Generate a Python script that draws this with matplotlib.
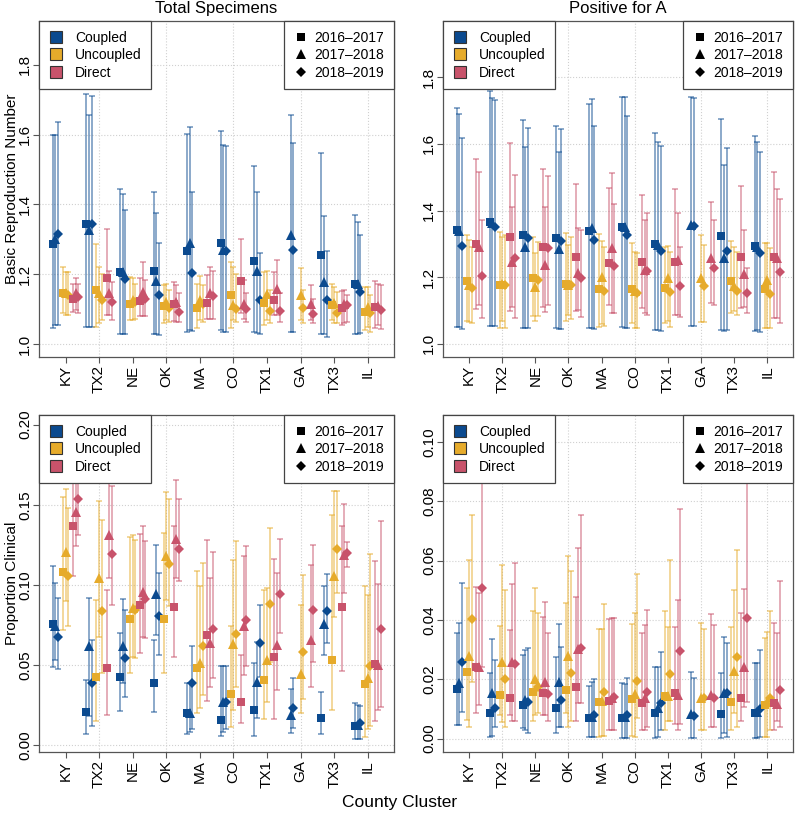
import matplotlib.pyplot as plt
from matplotlib.lines import Line2D

plt.rcParams['font.family'] = ['Liberation Sans', 'DejaVu Sans']

# Categories
clusters = ['KY', 'TX2', 'NE', 'OK', 'MA', 'CO', 'TX1', 'GA', 'TX3', 'IL']
models = ['Coupled', 'Uncoupled', 'Direct']
seasons = ['2016\u20132017', '2017\u20132018', '2018\u20132019']

# Each row = one cluster; each entry = (estimate, lower, upper) for one season
# None = no estimate for that season (GA 2016-2017)

# Total specimens: basic reproduction number
tot_r0_coupled = [
    [(1.288, 1.045, 1.600), (1.300, 1.054, 1.600), (1.316, 1.054, 1.635)],
    [(1.345, 1.050, 1.716), (1.326, 1.050, 1.657), (1.345, 1.050, 1.710)],
    [(1.207, 1.030, 1.443), (1.207, 1.030, 1.430), (1.185, 1.029, 1.385)],
    [(1.210, 1.030, 1.435), (1.180, 1.029, 1.376), (1.140, 1.026, 1.290)],
    [(1.267, 1.035, 1.602), (1.290, 1.040, 1.621), (1.204, 1.037, 1.435)],
    [(1.290, 1.040, 1.611), (1.269, 1.035, 1.569), (1.267, 1.035, 1.567)],
    [(1.238, 1.035, 1.511), (1.210, 1.032, 1.437), (1.126, 1.030, 1.262)],
    [None, (1.311, 1.035, 1.656), (1.269, 1.035, 1.575)],
    [(1.256, 1.030, 1.548), (1.178, 1.029, 1.366), (1.126, 1.021, 1.267)],
    [(1.173, 1.028, 1.369), (1.173, 1.028, 1.350), (1.150, 1.032, 1.313)],
]
tot_r0_uncoupled = [
    [(1.147, 1.088, 1.220), (1.145, 1.083, 1.207), (1.140, 1.083, 1.207)],
    [(1.156, 1.050, 1.288), (1.145, 1.059, 1.220), (1.126, 1.069, 1.200)],
    [(1.114, 1.069, 1.192), (1.126, 1.070, 1.188), (1.121, 1.073, 1.173)],
    [(1.109, 1.059, 1.169), (1.121, 1.069, 1.173), (1.102, 1.064, 1.154)],
    [(1.102, 1.045, 1.173), (1.126, 1.069, 1.196), (1.114, 1.064, 1.169)],
    [(1.140, 1.045, 1.235), (1.111, 1.069, 1.220), (1.099, 1.064, 1.200)],
    [(1.118, 1.054, 1.207), (1.143, 1.069, 1.210), (1.095, 1.061, 1.154)],
    [None, (1.140, 1.069, 1.218), (1.102, 1.059, 1.154)],
    [(1.113, 1.069, 1.173), (1.118, 1.059, 1.164), (1.090, 1.059, 1.150)],
    [(1.092, 1.040, 1.164), (1.105, 1.050, 1.164), (1.088, 1.035, 1.140)],
]
tot_r0_direct = [
    [(1.128, 1.092, 1.173), (1.145, 1.097, 1.190), (1.135, 1.090, 1.173)],
    [(1.190, 1.083, 1.330), (1.147, 1.083, 1.210), (1.121, 1.069, 1.178)],
    [(1.124, 1.080, 1.190), (1.150, 1.080, 1.235), (1.128, 1.080, 1.183)],
    [(1.116, 1.066, 1.178), (1.121, 1.064, 1.169), (1.092, 1.064, 1.145)],
    [(1.118, 1.073, 1.197), (1.145, 1.073, 1.220), (1.137, 1.073, 1.210)],
    [(1.181, 1.088, 1.302), (1.114, 1.073, 1.183), (1.099, 1.064, 1.145)],
    [(1.126, 1.083, 1.207), (1.159, 1.083, 1.240), (1.095, 1.064, 1.145)],
    [None, (1.116, 1.069, 1.169), (1.086, 1.059, 1.130)],
    [(1.102, 1.054, 1.151), (1.114, 1.059, 1.154), (1.111, 1.064, 1.140)],
    [(1.107, 1.045, 1.180), (1.110, 1.054, 1.173), (1.097, 1.042, 1.169)],
]

# Positive for A: basic reproduction number
posA_r0_coupled = [
    [(1.342, 1.052, 1.707), (1.340, 1.052, 1.689), (1.295, 1.045, 1.619)],
    [(1.365, 1.054, 1.760), (1.362, 1.054, 1.737), (1.352, 1.054, 1.732)],
    [(1.327, 1.049, 1.672), (1.290, 1.047, 1.592), (1.317, 1.047, 1.647)],
    [(1.317, 1.047, 1.655), (1.284, 1.045, 1.575), (1.310, 1.045, 1.644)],
    [(1.340, 1.047, 1.719), (1.347, 1.047, 1.734), (1.312, 1.045, 1.654)],
    [(1.352, 1.052, 1.742), (1.352, 1.047, 1.742), (1.327, 1.047, 1.685)],
    [(1.300, 1.042, 1.632), (1.297, 1.042, 1.607), (1.280, 1.039, 1.595)],
    [None, (1.357, 1.054, 1.742), (1.354, 1.054, 1.739)],
    [(1.324, 1.042, 1.675), (1.259, 1.039, 1.537), (1.280, 1.042, 1.589)],
    [(1.294, 1.039, 1.625), (1.292, 1.042, 1.605), (1.272, 1.037, 1.577)],
]
posA_r0_uncoupled = [
    [(1.189, 1.070, 1.327), (1.177, 1.065, 1.312), (1.167, 1.062, 1.292)],
    [(1.177, 1.047, 1.335), (1.180, 1.070, 1.320), (1.177, 1.047, 1.327)],
    [(1.197, 1.084, 1.320), (1.170, 1.070, 1.272), (1.192, 1.084, 1.307)],
    [(1.180, 1.070, 1.334), (1.177, 1.087, 1.297), (1.177, 1.074, 1.322)],
    [(1.164, 1.050, 1.330), (1.202, 1.060, 1.310), (1.159, 1.055, 1.290)],
    [(1.164, 1.062, 1.302), (1.159, 1.047, 1.277), (1.152, 1.047, 1.272)],
    [(1.169, 1.064, 1.292), (1.199, 1.070, 1.295), (1.157, 1.050, 1.277)],
    [None, (1.197, 1.067, 1.327), (1.175, 1.067, 1.297)],
    [(1.189, 1.092, 1.310), (1.174, 1.100, 1.292), (1.160, 1.087, 1.277)],
    [(1.164, 1.047, 1.304), (1.192, 1.047, 1.304), (1.150, 1.047, 1.287)],
]
posA_r0_direct = [
    [(1.299, 1.104, 1.555), (1.292, 1.117, 1.517), (1.204, 1.077, 1.372)],
    [(1.320, 1.100, 1.604), (1.245, 1.112, 1.410), (1.257, 1.077, 1.507)],
    [(1.290, 1.110, 1.524), (1.237, 1.097, 1.410), (1.287, 1.117, 1.504)],
    [(1.262, 1.100, 1.480), (1.212, 1.102, 1.349), (1.197, 1.082, 1.342)],
    [(1.244, 1.117, 1.467), (1.287, 1.092, 1.512), (1.235, 1.092, 1.420)],
    [(1.247, 1.107, 1.447), (1.222, 1.092, 1.372), (1.220, 1.087, 1.392)],
    [(1.245, 1.087, 1.464), (1.252, 1.087, 1.392), (1.174, 1.082, 1.292)],
    [None, (1.257, 1.122, 1.427), (1.227, 1.117, 1.372)],
    [(1.262, 1.107, 1.475), (1.210, 1.112, 1.342), (1.152, 1.094, 1.229)],
    [(1.262, 1.077, 1.517), (1.259, 1.077, 1.464), (1.215, 1.064, 1.434)],
]

# Total specimens: proportion clinical
tot_pc_coupled = [
    [(0.0756, 0.0485, 0.1115), (0.0740, 0.0530, 0.1010), (0.0673, 0.0473, 0.0917)],
    [(0.0208, 0.0067, 0.0406), (0.0615, 0.0180, 0.0920), (0.0385, 0.0120, 0.0656)],
    [(0.0427, 0.0212, 0.0698), (0.0615, 0.0390, 0.0910), (0.0542, 0.0302, 0.0844)],
    [(0.0390, 0.0208, 0.0656), (0.0942, 0.0688, 0.1250), (0.0806, 0.0563, 0.1073)],
    [(0.0198, 0.0070, 0.0390), (0.0202, 0.0080, 0.0385), (0.0385, 0.0100, 0.0615)],
    [(0.0156, 0.0056, 0.0490), (0.0270, 0.0080, 0.0490), (0.0270, 0.0100, 0.0494)],
    [(0.0219, 0.0056, 0.0510), (0.0396, 0.0167, 0.0646), (0.0635, 0.0427, 0.0875)],
    [None, (0.0188, 0.0077, 0.0348), (0.0233, 0.0104, 0.0417)],
    [(0.0167, 0.0067, 0.0329), (0.0756, 0.0563, 0.0994), (0.0838, 0.0635, 0.1069)],
    [(0.0119, 0.0035, 0.0260), (0.0125, 0.0040, 0.0250), (0.0135, 0.0038, 0.0246)],
]
tot_pc_uncoupled = [
    [(0.1077, 0.0719, 0.1548), (0.1202, 0.0896, 0.1598), (0.1052, 0.0740, 0.1480)],
    [(0.0427, 0.0150, 0.0906), (0.1042, 0.0677, 0.1525), (0.0838, 0.0450, 0.1406)],
    [(0.0785, 0.0448, 0.1300), (0.0858, 0.0552, 0.1312), (0.0844, 0.0542, 0.1280)],
    [(0.0785, 0.0452, 0.1323), (0.1181, 0.0906, 0.1579), (0.1131, 0.0865, 0.1535)],
    [(0.0479, 0.0198, 0.1088), (0.0510, 0.0230, 0.0990), (0.0615, 0.0313, 0.1135)],
    [(0.0319, 0.0110, 0.0740), (0.0629, 0.0219, 0.1156), (0.0692, 0.0365, 0.1271)],
    [(0.0406, 0.0160, 0.0969), (0.0531, 0.0271, 0.0979), (0.0881, 0.0521, 0.1354)],
    [None, (0.0444, 0.0200, 0.0875), (0.0579, 0.0285, 0.1063)],
    [(0.0531, 0.0219, 0.1438), (0.1052, 0.0798, 0.1588), (0.1225, 0.0948, 0.1588)],
    [(0.0379, 0.0050, 0.0994), (0.0417, 0.0100, 0.0938), (0.0494, 0.0120, 0.1194)],
]
tot_pc_direct = [
    [(0.1369, 0.1052, 0.1750), (0.1452, 0.1240, 0.1750), (0.1535, 0.1310, 0.1800)],
    [(0.0479, 0.0188, 0.0969), (0.1308, 0.1042, 0.1673), (0.1192, 0.0875, 0.1619)],
    [(0.0871, 0.0573, 0.1319), (0.0954, 0.0673, 0.1369), (0.0913, 0.0667, 0.1275)],
    [(0.0860, 0.0548, 0.1369), (0.1288, 0.1042, 0.1656), (0.1225, 0.1025, 0.1535)],
    [(0.0688, 0.0275, 0.1281), (0.0635, 0.0365, 0.1042), (0.0723, 0.0417, 0.1202)],
    [(0.0267, 0.0135, 0.0563), (0.0740, 0.0438, 0.1177), (0.0781, 0.0490, 0.1240)],
    [(0.0552, 0.0160, 0.1160), (0.0625, 0.0344, 0.1073), (0.0944, 0.0698, 0.1288)],
    [None, (0.0656, 0.0365, 0.1125), (0.0844, 0.0521, 0.1250)],
    [(0.0860, 0.0463, 0.1365), (0.1188, 0.0952, 0.1506), (0.1198, 0.1110, 0.1270)],
    [(0.0504, 0.0150, 0.1146), (0.0500, 0.0220, 0.1006), (0.0723, 0.0240, 0.1396)],
]

# Positive for A: proportion clinical
posA_pc_coupled = [
    [(0.0166, 0.0045, 0.0357), (0.0189, 0.0045, 0.0388), (0.0259, 0.0091, 0.0523)],
    [(0.0085, 0.0005, 0.0222), (0.0153, 0.0010, 0.0334), (0.0104, 0.0040, 0.0265)],
    [(0.0113, 0.0035, 0.0282), (0.0130, 0.0030, 0.0298), (0.0125, 0.0020, 0.0304)],
    [(0.0102, 0.0020, 0.0274), (0.0192, 0.0040, 0.0385), (0.0130, 0.0040, 0.0310)],
    [(0.0068, 0.0005, 0.0177), (0.0072, 0.0005, 0.0192), (0.0080, 0.0005, 0.0200)],
    [(0.0068, 0.0002, 0.0186), (0.0072, 0.0002, 0.0184), (0.0080, 0.0002, 0.0203)],
    [(0.0088, 0.0002, 0.0242), (0.0102, 0.0005, 0.0242), (0.0119, 0.0030, 0.0293)],
    [None, (0.0082, 0.0002, 0.0223), (0.0076, 0.0002, 0.0205)],
    [(0.0082, 0.0002, 0.0220), (0.0155, 0.0020, 0.0341), (0.0153, 0.0005, 0.0321)],
    [(0.0085, 0.0002, 0.0256), (0.0091, 0.0003, 0.0256), (0.0099, 0.0005, 0.0298)],
]
posA_pc_uncoupled = [
    [(0.0226, 0.0063, 0.0509), (0.0278, 0.0040, 0.0601), (0.0402, 0.0192, 0.0753)],
    [(0.0147, 0.0080, 0.0379), (0.0259, 0.0057, 0.0585), (0.0200, 0.0040, 0.0500)],
    [(0.0158, 0.0060, 0.0430), (0.0201, 0.0080, 0.0506), (0.0175, 0.0085, 0.0424)],
    [(0.0164, 0.0085, 0.0456), (0.0278, 0.0040, 0.0615), (0.0222, 0.0060, 0.0566)],
    [(0.0125, 0.0005, 0.0370), (0.0128, 0.0010, 0.0370), (0.0158, 0.0010, 0.0453)],
    [(0.0132, 0.0010, 0.0385), (0.0150, 0.0005, 0.0422), (0.0195, 0.0068, 0.0554)],
    [(0.0144, 0.0030, 0.0430), (0.0144, 0.0060, 0.0375), (0.0217, 0.0060, 0.0601)],
    [None, (0.0136, 0.0030, 0.0388), (0.0136, 0.0030, 0.0371)],
    [(0.0125, 0.0030, 0.0377), (0.0229, 0.0088, 0.0500), (0.0276, 0.0040, 0.0637)],
    [(0.0113, 0.0005, 0.0340), (0.0125, 0.0005, 0.0360), (0.0136, 0.0030, 0.0431)],
]
posA_pc_direct = [
    [(0.0242, 0.0085, 0.0512), (0.0242, 0.0113, 0.0489), (0.0506, 0.0242, 0.0955)],
    [(0.0138, 0.0080, 0.0366), (0.0259, 0.0060, 0.0520), (0.0251, 0.0060, 0.0590)],
    [(0.0155, 0.0080, 0.0411), (0.0192, 0.0080, 0.0461), (0.0149, 0.0060, 0.0355)],
    [(0.0175, 0.0060, 0.0478), (0.0301, 0.0121, 0.0641), (0.0304, 0.0120, 0.0755)],
    [(0.0128, 0.0030, 0.0402), (0.0136, 0.0030, 0.0405), (0.0141, 0.0030, 0.0405)],
    [(0.0119, 0.0030, 0.0355), (0.0136, 0.0030, 0.0383), (0.0156, 0.0040, 0.0435)],
    [(0.0153, 0.0050, 0.0377), (0.0147, 0.0030, 0.0467), (0.0295, 0.0050, 0.0772)],
    [None, (0.0147, 0.0040, 0.0419), (0.0136, 0.0040, 0.0383)],
    [(0.0136, 0.0060, 0.0422), (0.0242, 0.0108, 0.0503), (0.0407, 0.0125, 0.0907)],
    [(0.0121, 0.0030, 0.0388), (0.0117, 0.0060, 0.0355), (0.0164, 0.0040, 0.0532)],
]

model_colors = ['#0b4a8f', '#e6ab2b', '#c8536b']
season_markers = ['s', '^', 'D']
marker_sizes = [6, 7, 5]
model_off = [-0.3, 0.0, 0.3]
season_off = [-0.08, 0.0, 0.08]


def draw_panel(ax, panel_data, ylim, yticks, yticklabels):
    for m, rows in enumerate(panel_data):
        for i, row in enumerate(rows):
            for s, val in enumerate(row):
                if val is None:
                    continue
                est, lo, hi = val
                x = i + 1 + model_off[m] + season_off[s]
                ax.errorbar(x, est, yerr=[[est - lo], [hi - est]], fmt='none',
                            ecolor=model_colors[m], alpha=0.6, capsize=2,
                            elinewidth=1.1, capthick=1.1, zorder=2)
                ax.plot(x, est, marker=season_markers[s], ms=marker_sizes[s],
                        color=model_colors[m], mew=0, zorder=3)

    ax.set_xlim(0.21, 10.78)
    ax.set_ylim(*ylim)
    ax.set_xticks(range(1, 11))
    ax.set_xticklabels(clusters, rotation=90, fontsize=11)
    ax.set_yticks(yticks)
    ax.set_yticklabels(yticklabels, fontsize=11, rotation=90, va='center')
    ax.tick_params(length=4, color='#555555', pad=2)
    ax.tick_params(axis='y', pad=1)

    # dotted grid: horizontal at y ticks, vertical at even clusters
    for y in yticks:
        ax.axhline(y, color='#d0d0d0', ls=':', lw=0.8, zorder=0)
    for x in [2, 4, 6, 8, 10]:
        ax.axvline(x, color='#d0d0d0', ls=':', lw=0.8, zorder=0)

    for sp in ax.spines.values():
        sp.set_color('#555555')
        sp.set_linewidth(0.9)

    # legends
    model_handles = [Line2D([], [], ls='', marker='s', ms=9, mfc=c, mec='#333333', mew=0.8)
                     for c in model_colors]
    leg1 = ax.legend(model_handles, models, loc='upper left', borderaxespad=0,
                     fancybox=False, framealpha=1, edgecolor='#444444', fontsize=10,
                     handlelength=1.0, handletextpad=0.9, labelspacing=0.25,
                     borderpad=0.7)
    leg1.get_frame().set_linewidth(0.9)
    ax.add_artist(leg1)
    season_handles = [Line2D([], [], ls='', marker=mk, ms=ms, color='black', mew=0)
                      for mk, ms in zip(season_markers, marker_sizes)]
    leg2 = ax.legend(season_handles, seasons, loc='upper right', borderaxespad=0,
                     fancybox=False, framealpha=1, edgecolor='#444444', fontsize=10,
                     handlelength=1.0, handletextpad=0.5, labelspacing=0.25,
                     borderpad=0.7)
    leg2.get_frame().set_linewidth(0.9)


fig = plt.figure(figsize=(8, 8.13), dpi=100)
ax_tl = fig.add_axes([0.04875, 0.561, 0.44375, 0.4133])
ax_tr = fig.add_axes([0.55375, 0.561, 0.4375, 0.4133])
ax_bl = fig.add_axes([0.04875, 0.075, 0.44375, 0.4145])
ax_br = fig.add_axes([0.55375, 0.075, 0.4375, 0.4145])

r0_ticks = [1.0, 1.2, 1.4, 1.6, 1.8]
r0_labels = ['1.0', '1.2', '1.4', '1.6', '1.8']
draw_panel(ax_tl, [tot_r0_coupled, tot_r0_uncoupled, tot_r0_direct],
           (0.963, 1.926), r0_ticks, r0_labels)
draw_panel(ax_tr, [posA_r0_coupled, posA_r0_uncoupled, posA_r0_direct],
           (0.961, 1.969), r0_ticks, r0_labels)
draw_panel(ax_bl, [tot_pc_coupled, tot_pc_uncoupled, tot_pc_direct],
           (-0.0044, 0.206), [0, 0.05, 0.10, 0.15, 0.20],
           ['0.00', '0.05', '0.10', '0.15', '0.20'])
draw_panel(ax_br, [posA_pc_coupled, posA_pc_uncoupled, posA_pc_direct],
           (-0.0045, 0.109), [0, 0.02, 0.04, 0.06, 0.08, 0.10],
           ['0.00', '0.02', '0.04', '0.06', '0.08', '0.10'])

# titles and axis labels
ax_tl.text(0.5, 1.038, 'Total Specimens', transform=ax_tl.transAxes,
           ha='center', va='center', fontsize=12)
ax_tr.text(0.5, 1.038, 'Positive for A', transform=ax_tr.transAxes,
           ha='center', va='center', fontsize=12)
ax_tl.set_ylabel('Basic Reproduction Number', fontsize=11, labelpad=-1)
ax_bl.set_ylabel('Proportion Clinical', fontsize=11, labelpad=-1)
fig.text(0.5, 0.0135, 'County Cluster', ha='center', va='center', fontsize=12.5)

fig.savefig('out.png', dpi=100)
